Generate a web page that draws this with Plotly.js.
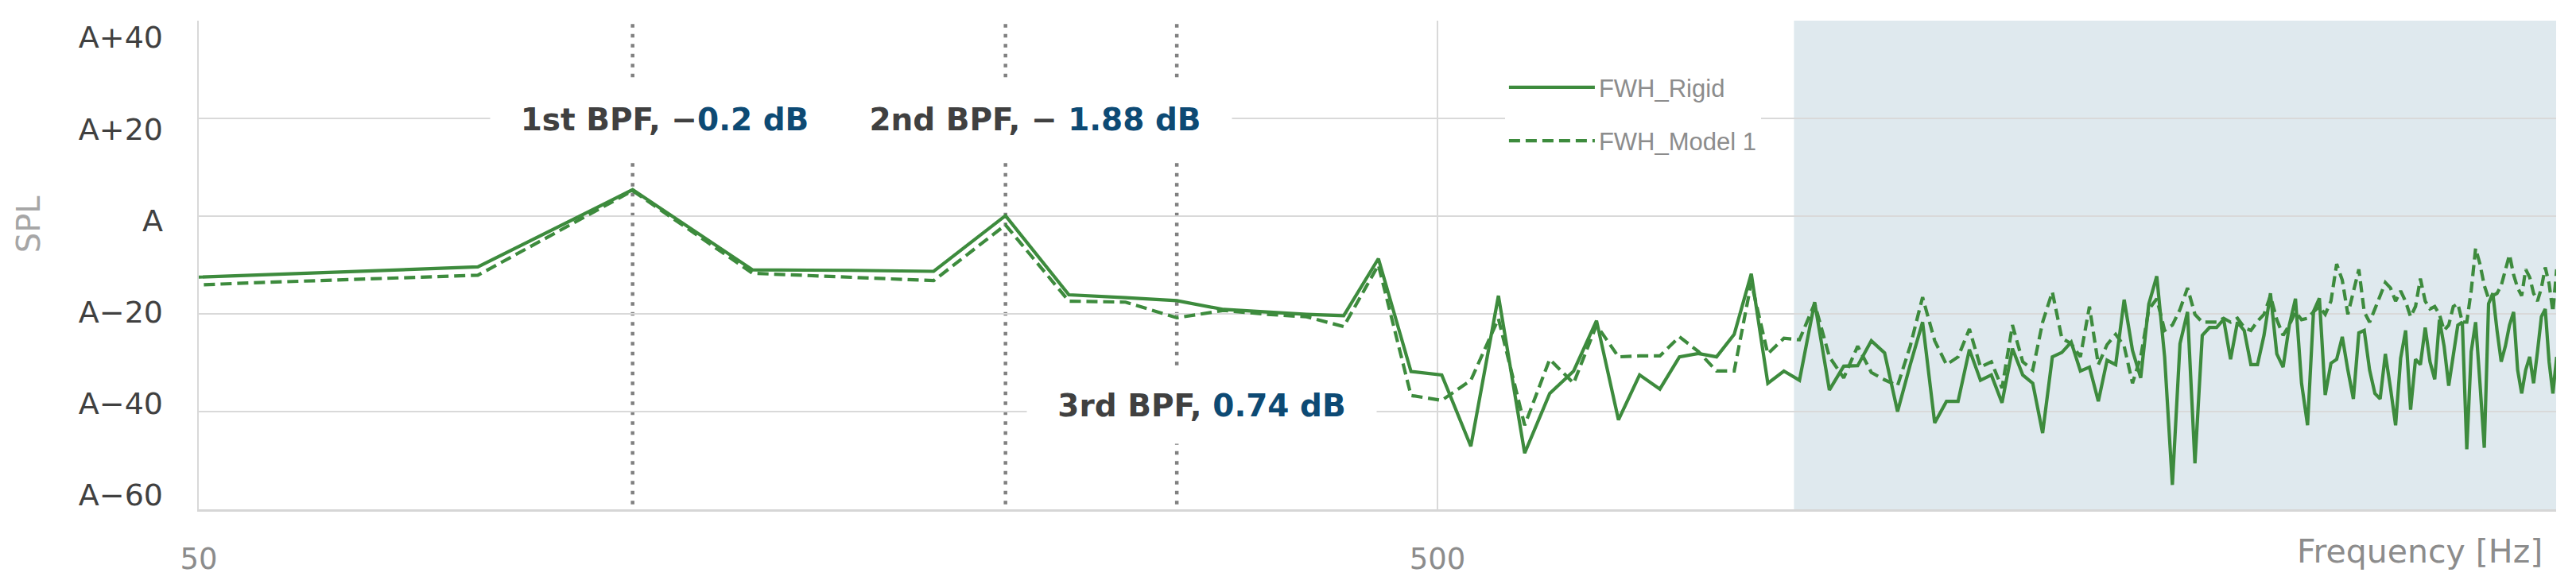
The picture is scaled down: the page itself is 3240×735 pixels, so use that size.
<!DOCTYPE html>
<html>
<head>
<meta charset="utf-8">
<script src="https://cdn.plot.ly/plotly-3.0.1.min.js"></script>
<style>
  html, body { margin: 0; padding: 0; background: #fff; }
  #chart { width: 3240px; height: 735px; }
</style>
</head>
<body>
<div id="chart"></div>
<script>
// frequency bins [Hz]
const freqHz = [
    28, 56, 84, 112, 140, 168, 196, 224, 252, 280,
    308, 336, 364, 392, 420, 448, 476, 504, 532, 560,
    588, 616, 644, 672, 700, 728, 756, 784, 812, 840,
    868, 896, 924, 952, 980, 1008, 1036, 1064, 1092, 1120,
    1148, 1176, 1204, 1232, 1260, 1288, 1316, 1344, 1372, 1400,
    1428, 1456, 1484, 1512, 1540, 1568, 1596, 1624, 1652, 1680,
    1708, 1736, 1764, 1792, 1820, 1848, 1876, 1904, 1932, 1960,
    1988, 2016, 2044, 2072, 2100, 2128, 2156, 2184, 2212, 2240,
    2268, 2296, 2324, 2352, 2380, 2408, 2436, 2464, 2492, 2520,
    2548, 2576, 2604, 2632, 2660, 2688, 2716, 2744, 2772, 2800,
    2828, 2856, 2884, 2912, 2940, 2968, 2996, 3024, 3052, 3080,
    3108, 3136, 3164, 3192, 3220, 3248, 3276, 3304, 3332, 3360,
    3388, 3416, 3444, 3472, 3500, 3528, 3556, 3584, 3612, 3640,
    3668, 3696, 3724, 3752, 3780, 3808, 3836, 3864, 3892, 3920,
    3948, 3976, 4004
]

// SPL relative to reference level A [dB]
const splRigid = [
    -14.8, -12.0, -10.4, 5.4, -11.0, -11.1, -11.3, 0.1, -16.1, -16.7,
    -17.3, -19.1, -19.7, -20.1, -20.4, -8.7, -31.8, -32.5, -47.1, -16.3,
    -48.5, -36.3, -31.7, -21.4, -41.7, -32.5, -35.4, -28.8, -28.1, -28.8,
    -24.2, -11.8, -34.2, -31.7, -33.6, -17.6, -35.6, -30.7, -30.6, -25.5,
    -28.0, -40.0, -30.4, -21.7, -42.3, -37.9, -37.9, -27.3, -33.6, -32.5,
    -38.2, -27.1, -32.5, -34.2, -44.4, -28.8, -27.9, -25.8, -31.7, -30.9,
    -37.9, -29.5, -30.4, -17.1, -27.5, -33.1, -18.0, -12.3, -28.8, -55.0,
    -26.1, -19.6, -50.6, -24.4, -22.8, -22.8, -21.1, -29.3, -21.7, -23.4,
    -30.4, -30.4, -24.4, -15.8, -28.2, -30.9, -22.3, -16.9, -34.2, -42.8,
    -19.5, -16.8, -36.6, -30.1, -29.3, -24.7, -31.5, -37.4, -23.9, -23.4,
    -31.5, -36.3, -37.4, -28.2, -35.2, -42.8, -29.1, -23.4, -39.6, -29.3,
    -30.4, -22.8, -29.8, -33.4, -21.2, -26.6, -34.7, -28.8, -22.3, -21.7,
    -47.7, -27.7, -21.7, -34.2, -47.4, -17.9, -15.8, -23.4, -29.8, -26.6,
    -22.3, -19.6, -31.5, -36.3, -31.5, -28.8, -34.2, -27.7, -20.6, -19.0,
    -29.8, -36.3, -28.8
]
const splModel1 = [
    -16.5, -13.6, -12.1, 5.2, -11.7, -12.5, -13.2, -1.8, -17.4, -17.6,
    -20.8, -19.3, -20.1, -20.6, -22.6, -10.0, -36.7, -37.7, -33.6, -21.0,
    -42.8, -29.3, -34.2, -22.3, -28.8, -28.6, -28.6, -24.7, -27.7, -31.7,
    -31.7, -13.6, -28.2, -25.0, -25.3, -17.9, -28.8, -33.1, -26.6, -32.0,
    -33.5, -34.7, -26.6, -16.6, -25.5, -30.4, -28.8, -23.1, -30.9, -29.8,
    -35.2, -22.3, -29.8, -31.5, -21.7, -15.5, -25.0, -26.1, -28.8, -18.5,
    -30.4, -26.3, -24.2, -26.6, -34.2, -28.8, -19.1, -16.9, -23.4, -22.3,
    -19.1, -14.7, -20.1, -21.7, -21.7, -21.7, -20.9, -21.7, -20.9, -22.8,
    -23.4, -21.5, -20.1, -16.3, -21.2, -24.4, -22.3, -19.6, -21.2, -20.9,
    -19.6, -18.5, -20.1, -17.4, -9.8, -13.1, -20.1, -15.3, -10.9, -19.6,
    -21.7, -19.0, -16.3, -13.6, -14.7, -17.4, -15.3, -17.5, -20.6, -18.5,
    -12.8, -17.4, -19.0, -18.5, -20.1, -23.4, -22.3, -18.5, -17.9, -21.7,
    -21.7, -15.2, -6.6, -9.8, -14.2, -16.9, -16.3, -15.8, -14.2, -10.9,
    -7.9, -12.0, -14.7, -16.3, -10.9, -12.5, -15.8, -17.4, -14.7, -10.5,
    -13.8, -19.6, -10.9
]

const yTickVals = [-60, -40, -20, 0, 20, 40]
const yTickText = ['A\u221260', 'A\u221240', 'A\u221220', 'A', 'A+20', 'A+40']
const xTickVals = [50, 500]
const xTickText = ['50', '500']

// blade passing frequencies and the level difference written next to them
const bpfFreqs = [112, 224, 308]
const bpfNames = ['1st BPF, \u2212', '2nd BPF, \u2212 ', '3rd BPF, ']
const bpfDiffs = ['0.2 dB', '1.88 dB', '0.74 dB']

// shaded high frequency band
const bandHz = [970, 4000]

const green = '#3d8b3d'
const darkText = '#404040'
const blueText = '#0d4a74'
const greyText = '#8c8c8c'
const mainFont = 'DejaVu Sans'

const traces = [{
    x: freqHz,
    y: splRigid,
    name: 'FWH_Rigid',
    legendgroup: 'rigid',
    type: 'scatter',
    mode: 'lines',
    line: { color: green, width: 4.2 }
}, {
    x: freqHz,
    y: splModel1,
    name: 'FWH_Model 1',
    legendgroup: 'model1',
    type: 'scatter',
    mode: 'lines',
    line: { color: green, width: 4.2, dash: '14px,7px' }
}, {
    // empty trace so the label-only axis gets drawn
    x: [],
    y: [],
    yaxis: 'y2',
    type: 'scatter',
    mode: 'lines',
    showlegend: false,
    hoverinfo: 'skip'
}]

const shapes = [{
    type: 'rect',
    xref: 'x', yref: 'paper',
    x0: bandHz[0], x1: bandHz[1], y0: 0, y1: 1,
    fillcolor: 'rgba(191,211,221,0.5)',
    line: { width: 0 },
    layer: 'between'
}]
bpfFreqs.forEach(f => {
    shapes.push({
        type: 'line',
        xref: 'x', yref: 'paper',
        x0: f, x1: f, y0: 0.01, y1: 1,
        line: { color: '#808080', width: 4.5, dash: '4.5px,8px' },
        layer: 'between'
    })
})

// label boxes (paper coords) for the BPF notes
const labelBox = [
    { x: 0.1976, y: 0.798, w: 438, h: 98 },
    { x: 0.3548, y: 0.798, w: 494, h: 98 },
    { x: 0.4256, y: 0.213, w: 439, h: 96 }
]

const annotations = bpfNames.map((n, i) => ({
    xref: 'paper', yref: 'paper',
    x: labelBox[i].x, y: labelBox[i].y,
    xanchor: 'center', yanchor: 'middle',
    width: labelBox[i].w, height: labelBox[i].h,
    showarrow: false,
    bgcolor: '#ffffff',
    borderpad: 0,
    text: '<b>' + n + '<span style="color:' + blueText + '">' + bpfDiffs[i] + '</span></b>',
    font: { family: mainFont, size: 39, color: darkText }
}))
annotations.push({
    xref: 'paper', yref: 'paper',
    x: -0.0722, y: 0.585,
    xanchor: 'center', yanchor: 'middle',
    textangle: -90,
    showarrow: false,
    text: 'SPL',
    font: { family: mainFont, size: 40, color: '#a6a6a6' }
})
annotations.push({
    xref: 'paper', yref: 'paper',
    x: 0.995, y: -0.0862,
    xanchor: 'right', yanchor: 'middle',
    showarrow: false,
    text: 'Frequency [Hz]',
    font: { family: mainFont, size: 41, color: greyText }
})

const layout = {
    width: 3240,
    height: 735,
    margin: { l: 250, r: 25, t: 26, b: 94, pad: 0 },
    paper_bgcolor: '#ffffff',
    plot_bgcolor: '#ffffff',
    font: { family: mainFont, color: darkText },
    xaxis: {
        type: 'log',
        range: [Math.log10(50), Math.log10(4000)],
        tickvals: xTickVals,
        ticktext: xTickText,
        ticks: '',
        showgrid: true,
        gridcolor: '#d9d9d9',
        gridwidth: 2,
        showline: true,
        linecolor: '#d6d6d6',
        linewidth: 3,
        zeroline: false,
        ticklabelstandoff: 28,
        tickfont: { family: mainFont, size: 37, color: greyText }
    },
    yaxis: {
        range: [-60, 40],
        tickvals: yTickVals,
        showticklabels: false,
        ticks: '',
        showgrid: true,
        gridcolor: '#d9d9d9',
        gridwidth: 2,
        showline: true,
        linecolor: '#d9d9d9',
        linewidth: 2,
        zeroline: false
    },
    // label-only axis: the tick texts sit slightly off the gridlines, as in the source figure
    yaxis2: {
        overlaying: 'y',
        side: 'left',
        range: [-63.125, 43.646],
        tickvals: yTickVals,
        ticktext: yTickText,
        ticks: '',
        showgrid: false,
        showline: false,
        zeroline: false,
        ticklabelstandoff: 44,
        tickfont: { family: mainFont, size: 38, color: darkText }
    },
    showlegend: true,
    legend: {
        x: 0.5541, y: 0.907,
        xanchor: 'left', yanchor: 'top',
        bgcolor: '#ffffff',
        borderwidth: 0,
        traceorder: 'grouped',
        tracegroupgap: 24,
        itemwidth: 108,
        font: { family: 'Liberation Sans', size: 31, color: greyText }
    },
    shapes: shapes,
    annotations: annotations
}

Plotly.newPlot(document.getElementById('chart'), traces, layout, { displayModeBar: false, responsive: false })
</script>
</body>
</html>
